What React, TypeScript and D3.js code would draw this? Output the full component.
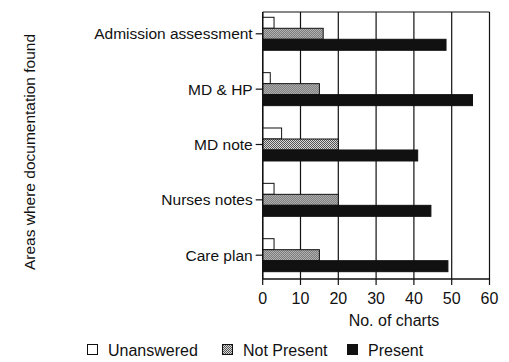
import React from 'react';
import * as d3 from 'd3';

const categories = ['Admission assessment', 'MD & HP', 'MD note', 'Nurses notes', 'Care plan'];
const seriesNames = ['Unanswered', 'Not Present', 'Present'];
const unanswered = [3, 2, 5, 3, 3];
const notPresent = [16, 15, 20, 20, 15];
const present = [48.5, 55.5, 41, 44.5, 49];
const xTicks = [0, 10, 20, 30, 40, 50, 60];
const xTitle = 'No. of charts';
const yTitle = 'Areas where documentation found';

const FONT = '"Liberation Sans", Arial, Helvetica, sans-serif';
const INK = '#111';

export default function App() {
  const W = 509, H = 362;
  const left = 262.7, right = 489.5, top = 12, bottom = 279;
  const x = d3.scaleLinear().domain([0, 60]).range([left, right]);
  const y = d3.scaleBand<string>().domain(categories).range([top, bottom])
    .paddingInner(0.404).paddingOuter(0.114).align(0.42);
  const sub = d3.scaleBand<string>().domain(seriesNames).range([0, y.bandwidth()]);
  const series = [unanswered, notPresent, present];
  const fills = ['#fff', 'url(#hatch)', INK];

  const legendX = [87, 222, 347];

  return (
    <svg width={W} height={H} style={{ position: 'absolute', left: 0, top: 0, background: '#fff' }}
      fontFamily={FONT}>
      <defs>
        <pattern id="hatch" width="2" height="2" patternUnits="userSpaceOnUse">
          <rect width="2" height="2" fill="#d8d8d8" />
          <rect x="0" y="0" width="1" height="1" fill="#555" />
          <rect x="1" y="1" width="1" height="1" fill="#555" />
        </pattern>
      </defs>
      <rect width={W} height={H} fill="#fff" />
      {/* grid lines */}
      {xTicks.map(t => (
        <line key={'g' + t} x1={x(t)} x2={x(t)} y1={top} y2={bottom} stroke={INK} strokeWidth={1.2} />
      ))}
      <line x1={left} x2={right} y1={top} y2={top} stroke={INK} strokeWidth={1.2} />
      {/* bars */}
      {categories.map((c, i) => (
        <g key={c} transform={`translate(0,${y(c)})`}>
          {series.map((s, k) => (
            <rect key={k} x={x(0)} y={sub(seriesNames[k])!} width={x(s[i]) - x(0)} height={sub.bandwidth()}
              fill={fills[k]} stroke={INK} strokeWidth={1} />
          ))}
        </g>
      ))}
      {/* x axis */}
      <line x1={left} x2={right} y1={bottom} y2={bottom} stroke={INK} strokeWidth={1.4} />
      {xTicks.map(t => (
        <g key={'t' + t}>
          <line x1={x(t)} x2={x(t)} y1={bottom} y2={bottom + 6} stroke={INK} strokeWidth={1.2} />
          <text x={x(t)} y={bottom + 25} textAnchor="middle" fontSize={16} fill={INK}>{t}</text>
        </g>
      ))}
      <text x={394} y={326} textAnchor="middle" fontSize={16} fill={INK}>{xTitle}</text>
      {/* y axis */}
      <line x1={left} x2={left} y1={top} y2={bottom} stroke={INK} strokeWidth={1.4} />
      {categories.map(c => {
        const cy = y(c)! + y.bandwidth() / 2;
        return (
          <g key={'y' + c}>
            <line x1={left - 7} x2={left} y1={cy} y2={cy} stroke={INK} strokeWidth={1.2} />
            <text x={left - 10} y={cy} dy="0.35em" textAnchor="end" fontSize={15.5} fill={INK}>{c}</text>
          </g>
        );
      })}
      <text transform={`translate(35,152) rotate(-90)`} textAnchor="middle" fontSize={15.5} fill={INK}>{yTitle}</text>
      {/* legend */}
      {seriesNames.map((n, k) => (
        <g key={'l' + n} transform={`translate(${legendX[k]},344)`}>
          <rect x={0.5} y={0.5} width={10} height={10} fill={fills[k]} stroke={INK} strokeWidth={1} />
          <text x={21} y={12} fontSize={16} fill={INK}>{n}</text>
        </g>
      ))}
    </svg>
  );
}
